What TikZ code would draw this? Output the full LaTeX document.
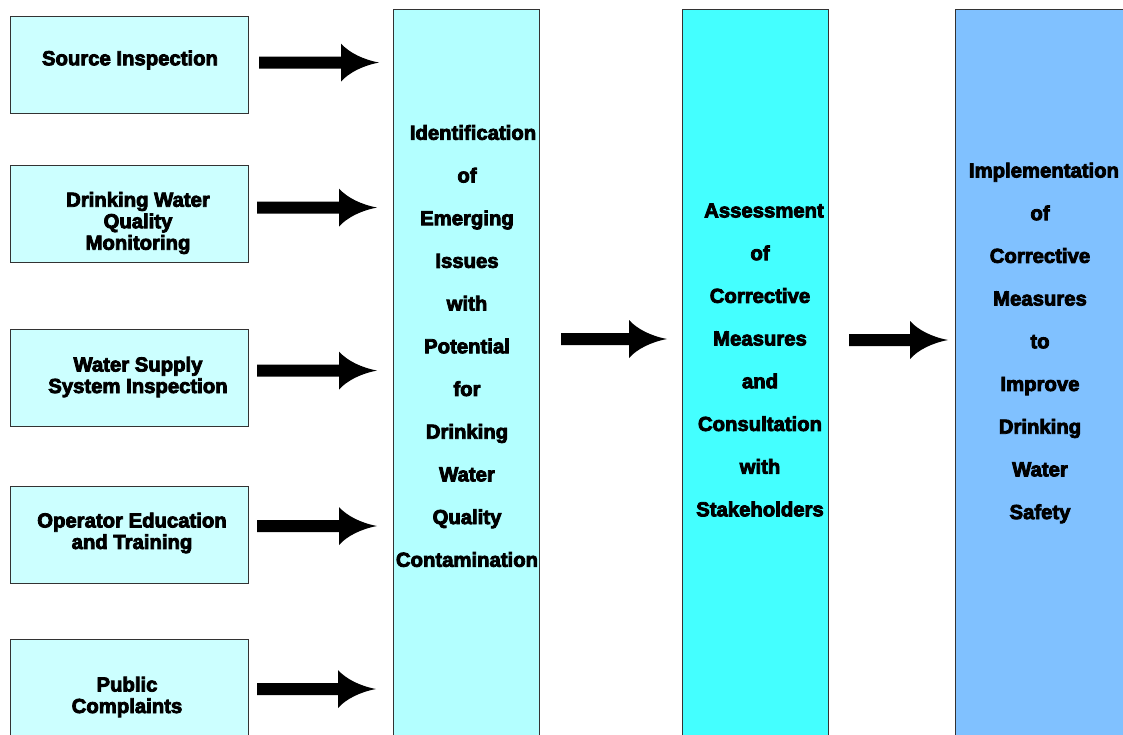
\documentclass[tikz,border=0pt]{standalone}
\usepackage{fontspec}
\newfontfamily\hv{Liberation Sans}[BoldFeatures={FakeBold=4}]
\usetikzlibrary{calc}
\definecolor{boxL}{HTML}{CCFFFF}
\definecolor{colA}{HTML}{B3FFFF}
\definecolor{colB}{HTML}{44FFFF}
\definecolor{colC}{HTML}{80C1FF}
\definecolor{edge}{HTML}{333333}
\newcommand\fatarrow[2]{%
  \fill let \p1=(#1), \p2=(#2) in
    (\x1,\y1+6) -- (\x2-38,\y1+6) -- (\x2-38,\y1+19)
    .. controls (\x2-30,\y1+10) and (\x2-16,\y1+3) .. (\x2,\y1)
    .. controls (\x2-16,\y1-3) and (\x2-30,\y1-10) .. (\x2-38,\y1-19)
    -- (\x2-38,\y1-6) -- (\x1,\y1-6) -- cycle;}
\begin{document}
\begin{tikzpicture}[x=1pt,y=-1pt,
  lbox/.style={draw=edge, line width=1.1pt, fill=boxL, anchor=north west,
    minimum width=238, minimum height=97, inner sep=0pt},
  colbox/.style={draw=edge, line width=1.1pt, anchor=north west,
    minimum width=146, minimum height=780, inner sep=0pt},
  ltxt/.style={align=center, inner sep=0pt,
    font=\hv\bfseries\fontsize{20.3}{21.5}\selectfont},
  ctxt/.style={align=center, inner sep=0pt,
    font=\hv\bfseries\fontsize{20.3}{42.7}\selectfont}]
\useasboundingbox (0,0) rectangle (1123,734);
\clip (0,0) rectangle (1123,734);
\fill[white] (0,0) rectangle (1123,734);
% left boxes
\node[lbox] (s1) at (10,16) {};
\node[lbox] (s2) at (10,165) {};
\node[lbox] (s3) at (10,329) {};
\node[lbox] (s4) at (10,486) {};
\node[lbox, minimum height=120] (s5) at (10,639) {};
\node[ltxt] (t1) at (130,60) {Source Inspection};
\node[ltxt] (t2) at (138,223) {Drinking Water\\Quality\\Monitoring};
\node[ltxt] (t3) at (138,377) {Water Supply\\System Inspection};
\node[ltxt] (t4) at (132,533) {Operator Education\\and Training};
\node[ltxt] (t5) at (127,697) {Public\\Complaints};
% columns
\node[colbox, fill=colA] (c1) at (393,9) {};
\node[colbox, fill=colB] (c2) at (682,9) {};
\node[colbox, fill=colC, minimum width=180] (c3) at (955,9) {};
\node[ctxt] (u1) at (467,346) {\hspace*{12pt}Identification\\of\\Emerging\\Issues\\with\\Potential\\for\\Drinking\\Water\\Quality\\Contamination};
\node[ctxt] (u2) at (760,360) {\hspace*{8pt}Assessment\\of\\Corrective\\Measures\\and\\Consultation\\with\\Stakeholders};
\node[ctxt] (u3) at (1040,343) {\hspace*{8pt}Implementation\\of\\Corrective\\Measures\\to\\Improve\\Drinking\\Water\\Safety};
% arrow end points
\coordinate (a1s) at ($(s1.east)+(10,-2.5)$);
\coordinate (a1e) at ($(s1.east -| c1.west)+(-14,-2.5)$);
\coordinate (a2s) at ($(s2.east)+(8,-6.5)$);
\coordinate (a2e) at ($(s2.east -| c1.west)+(-16,-6.5)$);
\coordinate (a3s) at ($(s3.east)+(8,-7.5)$);
\coordinate (a3e) at ($(s3.east -| c1.west)+(-16,-7.5)$);
\coordinate (a4s) at ($(s4.north east)+(8,40)$);
\coordinate (a4e) at ($(s4.north east -| c1.west)+(-16,40)$);
\coordinate (a5s) at ($(s5.north east)+(8,50)$);
\coordinate (a5e) at ($(s5.north east -| c1.west)+(-17,50)$);
\coordinate (m1s) at ($(c1.north east)+(21,330)$);
\coordinate (m1e) at ($(c2.north west)+(-15,330)$);
\coordinate (m2s) at ($(c2.north east)+(20,331)$);
\coordinate (m2e) at ($(c3.north west)+(-7,331)$);
\fatarrow{a1s}{a1e}
\fatarrow{a2s}{a2e}
\fatarrow{a3s}{a3e}
\fatarrow{a4s}{a4e}
\fatarrow{a5s}{a5e}
\fatarrow{m1s}{m1e}
\fatarrow{m2s}{m2e}
\end{tikzpicture}
\end{document}
